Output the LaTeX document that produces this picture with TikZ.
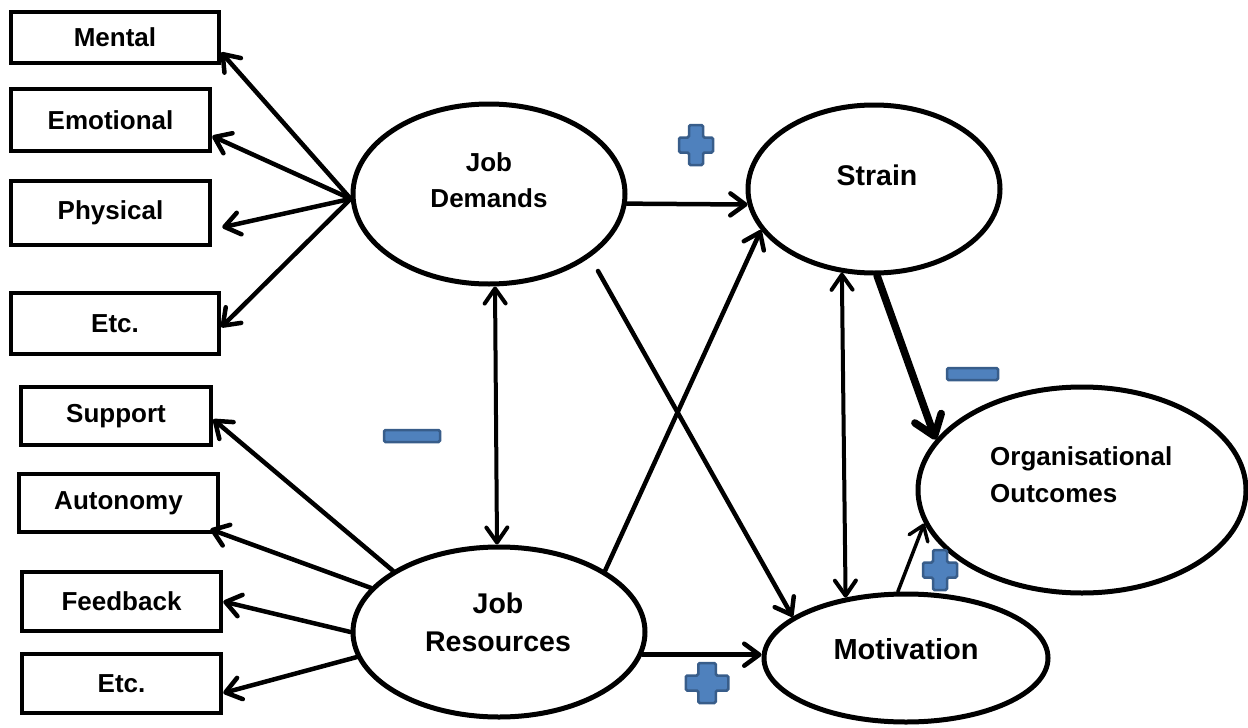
\documentclass[tikz,border=0pt]{standalone}
\usepackage{fontspec}
\setmainfont{Liberation Sans}
\usetikzlibrary{shapes.geometric,arrows.meta}
\definecolor{signfill}{HTML}{4F81BD}
\definecolor{signedge}{HTML}{385D8A}
\begin{document}
\begin{tikzpicture}[x=1pt,y=-1pt,
  box/.style={draw, line width=4.5pt, rectangle, inner sep=0pt,
    font=\fontsize{26}{30}\selectfont\bfseries},
  bubble/.style={draw, line width=5pt, ellipse, inner sep=0pt},
  caption/.style={align=center, inner sep=0pt},
  link/.style={line width=4.5pt, line cap=round,
    -{Straight Barb[length=15pt,width=22pt,round]}},
  twoway/.style={line width=4pt, line cap=round,
    {Straight Barb[length=15pt,width=21pt,round]}-{Straight Barb[length=15pt,width=21pt,round]}},
  heavy/.style={line width=7.5pt, line cap=round,
    -{Straight Barb[length=19pt,width=28pt,round]}},
  light/.style={line width=3.5pt, line cap=round,
    -{Straight Barb[length=14pt,width=20pt,round]}},
  signstyle/.style={fill=signfill, draw=signedge, line width=2.5pt, rounded corners=1.5pt},
  plusmark/.pic={
    \draw[signstyle] (-7,-20) -- (7,-20) -- (7,-7.5) -- (17,-7.5) -- (17,7.5) -- (7,7.5)
      -- (7,20) -- (-7,20) -- (-7,7.5) -- (-17,7.5) -- (-17,-7.5) -- (-7,-7.5) -- cycle;
  }
]
\useasboundingbox (0,0) rectangle (1248,728);

% demand indicators
\node[box, minimum width=208pt, minimum height=51pt] (mental) at (115,37.5) {Mental};
\node[box, minimum width=199pt, minimum height=62pt] (emotional) at (110.5,120) {Emotional};
\node[box, minimum width=199pt, minimum height=64pt] (physical) at (110.5,213) {Physical};
\node[box, minimum width=208pt, minimum height=61pt] (etcA) at (115,323.5) {Etc.};

% resource indicators
\node[box, minimum width=190pt, minimum height=58pt] (support) at (116,416) {Support};
\node[box, minimum width=199pt, minimum height=58pt] (autonomy) at (118.5,503) {Autonomy};
\node[box, minimum width=199pt, minimum height=59pt] (feedback) at (121.5,601.5) {Feedback};
\node[box, minimum width=199pt, minimum height=59pt] (etcB) at (121.5,683.5) {Etc.};

% latent constructs
\node[bubble, minimum width=272pt, minimum height=180pt] (jd) at (489,194) {};
\node[bubble, minimum width=252pt, minimum height=168pt] (strain) at (874,189) {};
\node[bubble, minimum width=292pt, minimum height=170pt] (jr) at (499,632) {};
\node[bubble, minimum width=284pt, minimum height=128pt] (motiv) at (906,658) {};
\node[bubble, minimum width=328pt, minimum height=206pt] (org) at (1082,490) {};

\node[caption, font=\fontsize{26}{36}\selectfont\bfseries] (jd-text) at (489,180) {Job\\Demands};
\node[caption, font=\fontsize{28.5}{34}\selectfont\bfseries] (strain-text) at (877,175) {Strain};
\node[caption, font=\fontsize{28.5}{38}\selectfont\bfseries] (jr-text) at (498,622) {Job\\Resources};
\node[caption, font=\fontsize{29}{34}\selectfont\bfseries] (motiv-text) at (906,649) {Motivation};
\node[caption, align=left, anchor=west, font=\fontsize{26}{37}\selectfont\bfseries] (org-text) at (990,475) {Organisational\\Outcomes};

% demands fan
\draw[link] (jd.182) -- (mental.-8);
\draw[link] (jd.182) -- (emotional.-9.4);
\draw[link] (jd.182) -- ([xshift=10pt]physical.-8);
\draw[link] (jd.182) -- (etcA.-2.4);

% resources fan
\draw[link] (jr.150) -- (support.-2);
\draw[link] (jr.161.6) -- ([xshift=-10pt,yshift=5pt]autonomy.south east);
\draw[link] (jr.180) -- (feedback.east);
\draw[link] (jr.190) -- ([yshift=-9.5pt]etcB.east);

% paths of the model
\coordinate (jdm) at (598,271);
\draw[link] (jd.-4) -- (strain.187);
\draw[link] (jr.-9) -- (jr.-9 -| motiv.west);
\draw[link] (jr.30) -- (strain.200.6);
\draw[link] (jdm) -- (motiv.160);
\draw[twoway] ([xshift=6pt]jd.south) -- ([xshift=-2pt]jr.north);
\draw[twoway] (strain.-111) -- (motiv.135);
\draw[heavy] (strain.-88) -- (org.161);
\draw[light] (motiv.97) -- (org.192);

% signs of the effects
\pic at (696,145) {plusmark};
\pic at (940,570) {plusmark};
\pic[xscale=1.25] at (707,683) {plusmark};
\draw[signstyle] (384,430) rectangle (440,442);
\draw[signstyle] (947,368) rectangle (998,380);
\end{tikzpicture}
\end{document}
